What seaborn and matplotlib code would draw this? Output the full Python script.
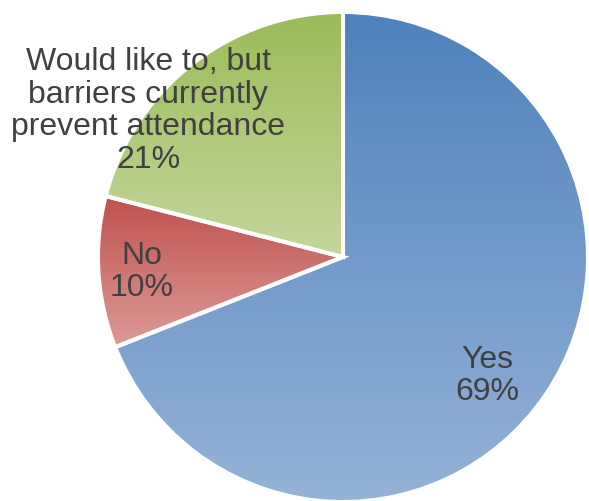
import numpy as np
import matplotlib
matplotlib.use("Agg")
import matplotlib.pyplot as plt
import seaborn as sns

# Survey answers, drawn clockwise from 12 o'clock
categories = ["Yes", "No", "Would like to, but\nbarriers currently\nprevent attendance"]
shares = [69, 10, 21]
percent_labels = ["69%", "10%", "21%"]

# Vertical gradient for each slice: top colour -> bottom colour
top_colors = ["#4F81BD", "#C0504D", "#9BBB59"]
bottom_colors = ["#95B3D7", "#DC9B99", "#C4D79B"]

sns.set_theme(style="white")
plt.rcParams["font.family"] = ["Liberation Sans", "DejaVu Sans"]

W, H = 589, 502
fig = plt.figure(figsize=(W / 100, H / 100), dpi=100)
ax = fig.add_axes([0, 0, 1, 1])

center = (343, H - 258)
radius = 245

wedges, _ = ax.pie(
    shares,
    startangle=90,
    counterclock=False,
    center=center,
    radius=radius,
    frame=True,
    wedgeprops=dict(edgecolor="white", linewidth=2.9),
)

for w, c_top, c_bot in zip(wedges, top_colors, bottom_colors):
    verts = w.get_path().vertices
    y0, y1 = verts[:, 1].min(), verts[:, 1].max()
    x0, x1 = verts[:, 0].min(), verts[:, 0].max()
    cmap = sns.blend_palette([c_bot, c_top], n_colors=256, as_cmap=True)
    grad = np.linspace(0, 1, 256).reshape(-1, 1)
    img = ax.imshow(grad, cmap=cmap, origin="lower", aspect="auto",
                    extent=(x0, x1, y0, y1), zorder=1, interpolation="bicubic")
    img.set_clip_path(w)
    w.set_facecolor("none")
    w.set_zorder(2)

# Slice labels (category + percentage)
label_pos = [(487, 376), (142, 272), (148, 111)]
for cat, pct, (lx, ly) in zip(categories, percent_labels, label_pos):
    ax.text(lx, H - ly, f"{cat}\n{pct}", ha="center", va="center",
            multialignment="center", fontsize=23, color="#404040",
            linespacing=1.12, zorder=3)

ax.set_xlim(0, W)
ax.set_ylim(0, H)
ax.set_aspect("equal")
ax.axis("off")

fig.savefig("out.png", dpi=100)
